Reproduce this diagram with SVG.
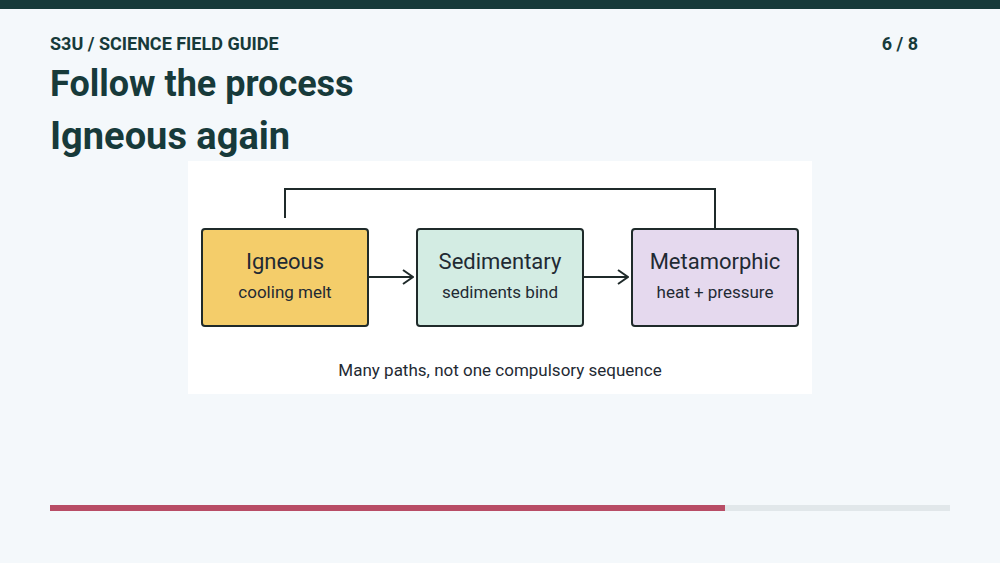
<svg xmlns="http://www.w3.org/2000/svg" width="1000" height="563" viewBox="0 0 1000 563">
<style>
text{font-family:Roboto,"Liberation Sans",sans-serif}
.hd{fill:#173a3a;font-weight:700}
.box{stroke:#1f2a2a;stroke-width:2}
.t{font-size:22px;fill:#1f2a33;text-anchor:middle}
.s{font-size:17px;fill:#1f2a33;text-anchor:middle}
.c{fill:none;stroke:#1f2a2a;stroke-width:2}
</style>
<defs><marker id="a" viewBox="0 0 12 16" refX="11" refY="8" markerWidth="12" markerHeight="16" markerUnits="userSpaceOnUse" orient="auto"><path d="M1,1 L11,8 L1,15" fill="none" stroke="#1f2a2a" stroke-width="2"/></marker></defs>
<rect width="1000" height="563" fill="#f4f8fb"/>
<rect width="1000" height="9" fill="#173a3a"/>
<text class="hd" x="50" y="50" font-size="18">S3U / SCIENCE FIELD GUIDE</text>
<text class="hd" x="918" y="50" font-size="18" text-anchor="end">6 / 8</text>
<text class="hd" x="50" y="96" font-size="36">Follow the process</text>
<text class="hd" x="50" y="149" font-size="38">Igneous again</text>
<rect x="188" y="161" width="624" height="233" fill="#ffffff"/>
<g id="connectors">
<path class="c" d="M369,277 H413" marker-end="url(#a)"/>
<path class="c" d="M584,277 H628" marker-end="url(#a)"/>
<path class="c" d="M715,228 V189 H285 V218"/>
</g>
<g id="igneous"><rect class="box" x="202" y="229" width="166" height="97" rx="3" fill="#f4cd6a"/><text class="t" x="285" y="269">Igneous</text><text class="s" x="285" y="298">cooling melt</text></g>
<g id="sedimentary"><rect class="box" x="417" y="229" width="166" height="97" rx="3" fill="#d3ece3"/><text class="t" x="500" y="269">Sedimentary</text><text class="s" x="500" y="298">sediments bind</text></g>
<g id="metamorphic"><rect class="box" x="632" y="229" width="166" height="97" rx="3" fill="#e5d9ee"/><text class="t" x="715" y="269">Metamorphic</text><text class="s" x="715" y="298">heat + pressure</text></g>
<text x="500" y="376" font-size="17" fill="#1f2a33" text-anchor="middle">Many paths, not one compulsory sequence</text>
<rect x="50" y="505" width="900" height="6" fill="#e1e7ea"/>
<rect x="50" y="505" width="675" height="6" fill="#b84d66"/>
</svg>
